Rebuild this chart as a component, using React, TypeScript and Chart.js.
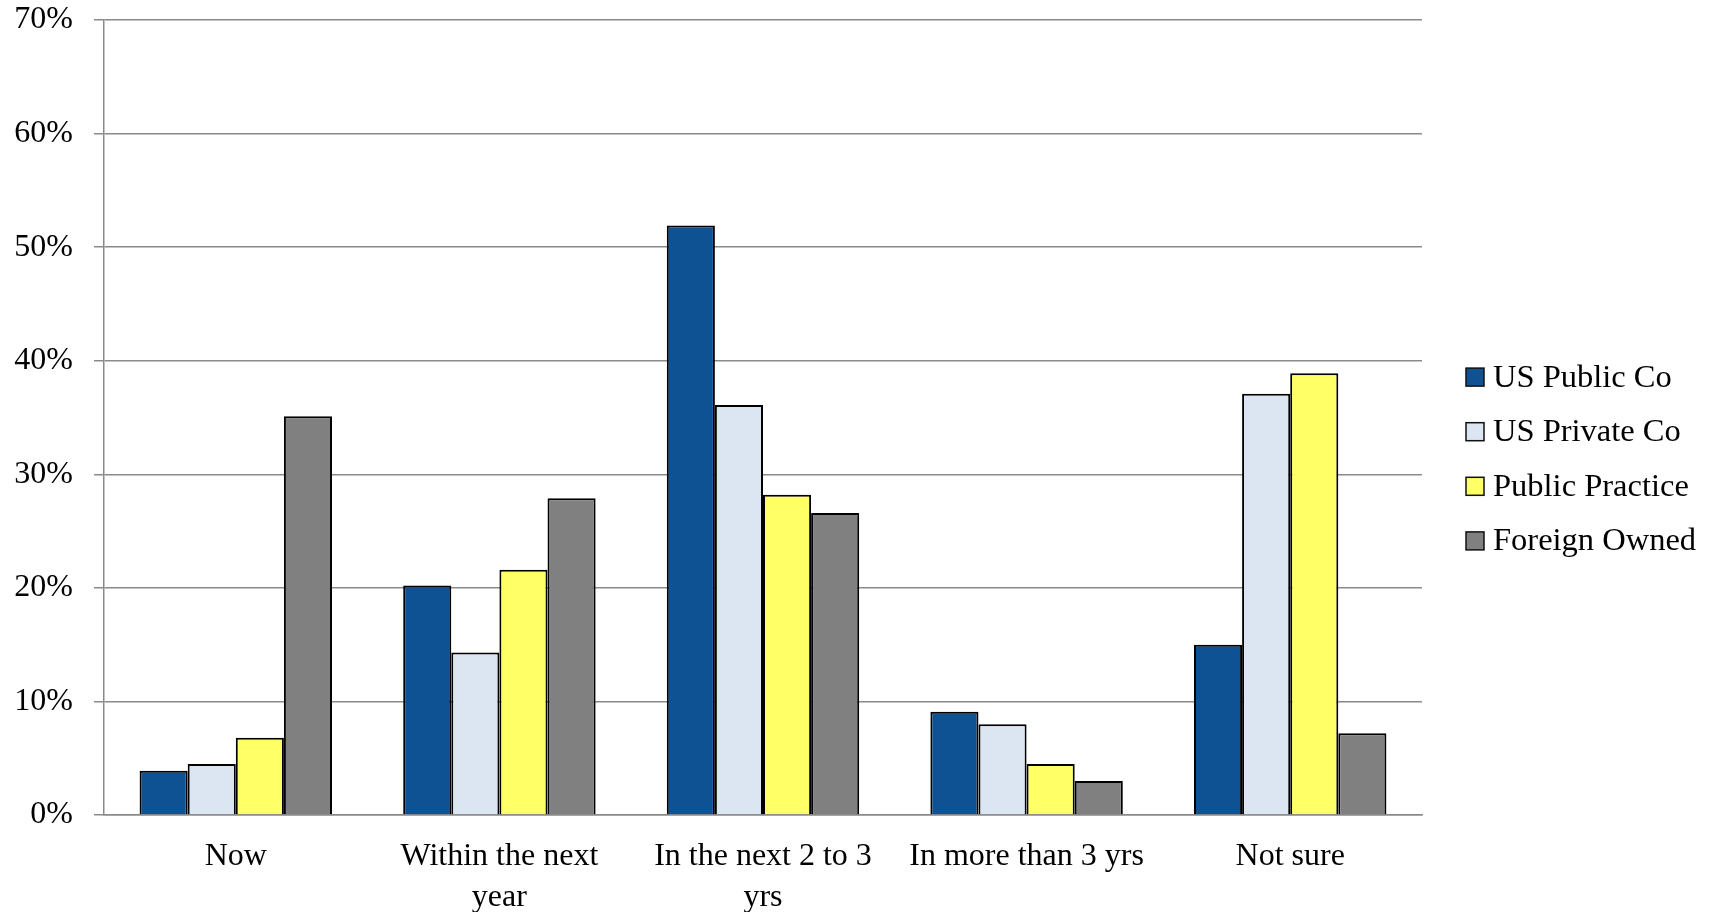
import React, { useEffect, useRef } from "react";
import { Chart, registerables } from "chart.js";

Chart.register(...registerables);

const categories: string[][] = [
  ["Now"],
  ["Within the next", "year"],
  ["In the next 2 to 3", "yrs"],
  ["In more than 3 yrs"],
  ["Not sure"],
];

const seriesNames = ["US Public Co", "US Private Co", "Public Practice", "Foreign Owned"];
const usPublic = [3.9, 20.2, 51.9, 9.1, 15.0];
const usPrivate = [4.5, 14.3, 36.1, 8.0, 37.1];
const publicPractice = [6.8, 21.6, 28.2, 4.5, 38.9];
const foreignOwned = [35.1, 27.9, 26.6, 3.0, 7.2];
const seriesColors = ["#0F5294", "#DCE6F2", "#FFFF66", "#808080"];
const yTickLabels = ["0%", "10%", "20%", "30%", "40%", "50%", "60%", "70%"];

const FONT = "'Liberation Serif', 'Times New Roman', serif";
const GRID = "#8a8a8a";

const legendPlugin = {
  id: "customLegend",
  afterDraw(chart: any) {
    const ctx = chart.ctx;
    const n = chart.data.datasets.length;
    const centerY = chart.height / 2 + 3;
    const step = 54.6;
    const boxX = 1466;
    const box = 18;
    ctx.save();
    ctx.font = `32.5px ${FONT}`;
    ctx.textBaseline = "middle";
    ctx.textAlign = "left";
    chart.data.datasets.forEach((ds: any, i: number) => {
      const cy = centerY + (i - (n - 1) / 2) * step;
      ctx.fillStyle = ds.backgroundColor;
      ctx.fillRect(boxX, cy - box / 2, box, box);
      ctx.lineWidth = 1.5;
      ctx.strokeStyle = "#111";
      ctx.strokeRect(boxX, cy - box / 2, box, box);
      ctx.fillStyle = "#000";
      ctx.fillText(ds.label, boxX + 27, cy + 1);
    });
    ctx.restore();
  },
};

export default function App() {
  const ref = useRef<HTMLCanvasElement | null>(null);

  useEffect(() => {
    if (!ref.current) return;
    const values = [usPublic, usPrivate, publicPractice, foreignOwned];
    const chart = new Chart(ref.current, {
      type: "bar",
      data: {
        labels: categories,
        datasets: seriesNames.map((name, i) => ({
          label: name,
          data: values[i],
          backgroundColor: seriesColors[i],
          borderColor: "#000",
          borderWidth: 2,
          categoryPercentage: 0.73,
          barPercentage: 1,
        })),
      },
      options: {
        animation: false,
        responsive: false,
        devicePixelRatio: 1,
        layout: { padding: { top: 20, right: 297, left: 0, bottom: 0 } },
        plugins: {
          legend: { display: false },
          tooltip: { enabled: false },
        },
        scales: {
          x: {
            grid: { display: false },
            border: { display: true, color: GRID, width: 1.5 },
            ticks: {
              color: "#000",
              font: { family: FONT, size: 32, lineHeight: 1.28 },
              padding: 13,
              maxRotation: 0,
              autoSkip: false,
            },
            afterFit(scale: any) {
              scale.height = 97;
            },
          },
          y: {
            min: 0,
            max: 70,
            grid: { color: GRID, lineWidth: 1.5, tickLength: 10 },
            border: { display: true, color: GRID, width: 1.5 },
            ticks: {
              stepSize: 10,
              color: "#000",
              padding: 21,
              font: { family: FONT, size: 32, lineHeight: 1.25 },
              callback: (v: any) => yTickLabels[Math.round(Number(v) / 10)],
            },
            afterFit(scale: any) {
              scale.width = 104;
              scale.paddingTop = 0;
              scale.paddingBottom = 0;
            },
          },
        },
      },
      plugins: [legendPlugin],
    });
    return () => chart.destroy();
  }, []);

  return (
    <div style={{ position: "fixed", left: 0, top: 0, width: 1719, height: 912, background: "#fff" }}>
      <canvas ref={ref} width={1719} height={912} />
    </div>
  );
}
